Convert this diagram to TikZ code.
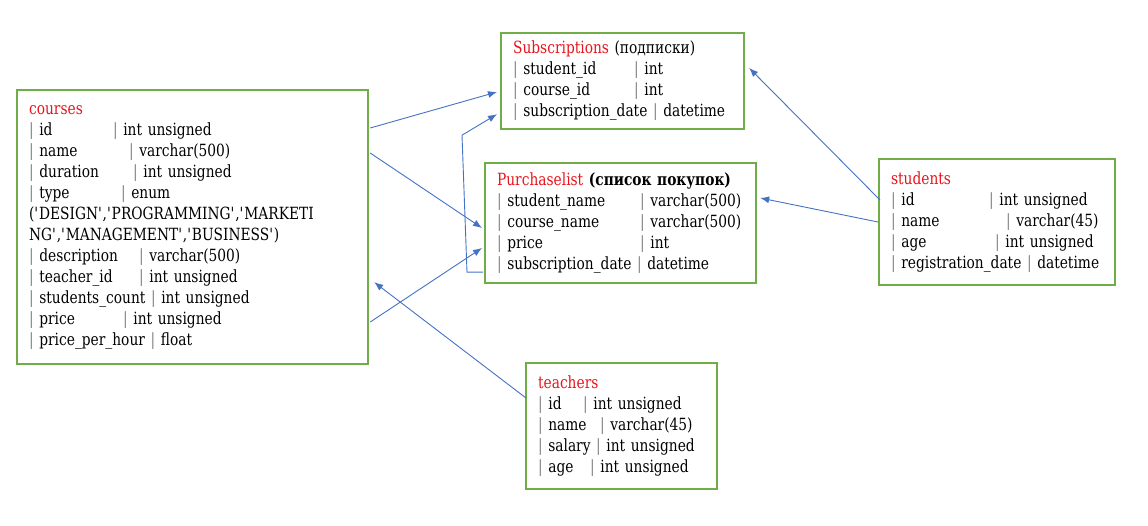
\documentclass[tikz,border=0pt]{standalone}
\usepackage{fontspec}
\setmainfont{DejaVu Serif}[Scale=0.96, FakeStretch=0.82]
\usetikzlibrary{arrows.meta,calc}
\definecolor{boxgreen}{HTML}{70AD47}
\definecolor{linkblue}{HTML}{4472C4}
\definecolor{titlered}{HTML}{E8131B}
\newcommand{\pp}{\textcolor{gray}{|}}
\newcommand{\sq}{\textquotesingle}
\newcommand{\fld}[3]{\makebox[#1pt][l]{\pp\ #2}\pp\ #3}
\tikzset{
  dbtable/.style={draw=boxgreen, line width=2.2pt, anchor=north west, align=left,
    inner xsep=12pt, inner ysep=0pt,
    font={\fontsize{17.5}{21}\selectfont\hyphenpenalty10000\exhyphenpenalty10000\relax}},
  tname/.style={text=titlered},
  link/.style={-{Latex[length=9pt,width=7pt]}, linkblue, line width=0.9pt}
}

\begin{document}
\begin{tikzpicture}[x=1pt,y=-1pt]
  \useasboundingbox (0,0) rectangle (1148,526);
  % tables
  \node[dbtable, text width=327pt, minimum height=274pt] (courses) at (16,89)
    {\textcolor{titlered}{courses}\\
     \fld{84}{id}{int unsigned}\\
     \fld{100}{name}{varchar(500)}\\
     \fld{104}{duration}{int unsigned}\\
     \fld{92}{type}{enum}\\
     (\sq DESIGN\sq,\sq PROGRAMMING\sq,\sq MARKETI\\
     NG\sq,\sq MANAGEMENT\sq,\sq BUSINESS\sq)\\
     \fld{110}{description}{varchar(500)}\\
     \fld{110}{teacher\_id}{int unsigned}\\
     \pp\ students\_count \pp\ int unsigned\\
     \fld{94}{price}{int unsigned}\\
     \pp\ price\_per\_hour \pp\ float};
  \node[dbtable, text width=219pt, minimum height=96pt] (subs) at (500,32)
    {\textcolor{titlered}{Subscriptions} (подписки)\\
     \fld{121}{student\_id}{int}\\
     \fld{121}{course\_id}{int}\\
     \pp\ subscription\_date \pp\ datetime};
  \node[dbtable, text width=247pt, minimum height=120pt] (purch) at (484,162)
    {\textcolor{titlered}{Purchaselist} \textbf{(список покупок)}\\
     \fld{143}{student\_name}{varchar(500)}\\
     \fld{143}{course\_name}{varchar(500)}\\
     \fld{143}{price}{int}\\
     \pp\ subscription\_date \pp\ datetime};
  \node[dbtable, text width=212pt, minimum height=126pt] (students) at (878,158)
    {\textcolor{titlered}{students}\\
     \fld{98}{id}{int unsigned}\\
     \fld{115}{name}{varchar(45)}\\
     \fld{104}{age}{int unsigned}\\
     \pp\ registration\_date \pp\ datetime};
  \node[dbtable, text width=167pt, minimum height=126pt] (teachers) at (525,362)
    {\textcolor{titlered}{teachers}\\
     \fld{45}{id}{int unsigned}\\
     \fld{62}{name}{varchar(45)}\\
     \pp\ salary \pp\ int unsigned\\
     \fld{52}{age}{int unsigned}};
  % links
  \draw[link] ($(courses.north east)+(1,39)$) -- ($(subs.north west)+(-3,60)$);
  \draw[link] ($(courses.north east)+(1,64)$) -- ($(purch.north west)+(-2,66)$);
  \draw[link] ($(courses.north east)+(1,233)$) -- ($(purch.north west)+(-2,86)$);
  \draw[link] ($(purch.south west)+(-1,-12)$) -- ++(-16,0)
    -- ($(subs.south west)+(-38,5)$) -- ($(subs.south west)+(-3,-16)$);
  \draw[link] ($(teachers.north west)+(1,36)$) -- ($(courses.south east)+(5,-83)$);
  \draw[link] ($(students.north west)+(2,42)$) -- ($(subs.north east)+(4,36)$);
  \draw[link] ($(students.north west)+(0,64)$) -- ($(purch.north east)+(3,36)$);
\end{tikzpicture}
\end{document}
